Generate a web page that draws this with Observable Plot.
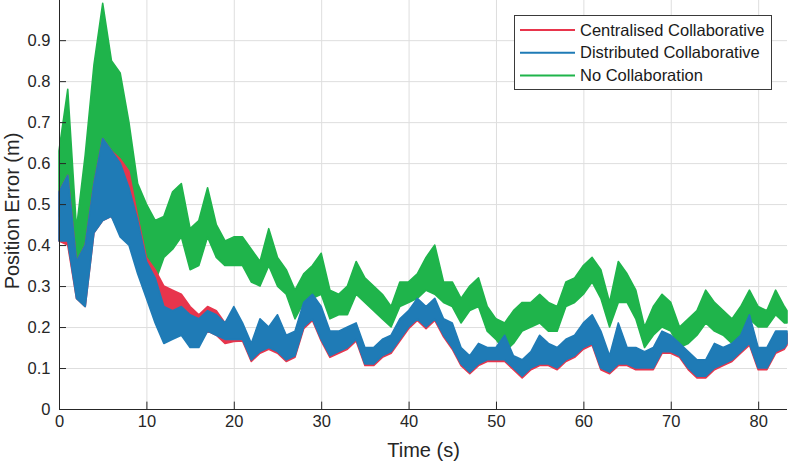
<!DOCTYPE html>
<html><head><meta charset="utf-8">
<script src="https://cdn.jsdelivr.net/npm/d3@7"></script>
<script src="https://cdn.jsdelivr.net/npm/@observablehq/plot@0.6"></script>
<style>body{margin:0;background:#fff} #chart{width:789px;height:469px}</style>
</head><body><div id="chart"></div>
<script>
// sample times (s)
const time = d3.range(84).concat([83.3]);

const seriesNames = ["Centralised Collaborative", "Distributed Collaborative", "No Collaboration"];
const seriesColors = ["#e8354c", "#1f7bb6", "#1fb44b"];

const xTicks = [0, 10, 20, 30, 40, 50, 60, 70, 80];
const yTicks = [0, 0.1, 0.2, 0.3, 0.4, 0.5, 0.6, 0.7, 0.8, 0.9];

// envelope of each noisy trace (low / high) per second
const noCollabLow = [0.47,0.45,0.31,0.32,0.50,0.48,0.47,0.44,0.42,0.38,
 0.35,0.31,0.37,0.39,0.42,0.34,0.35,0.42,0.37,0.35,
 0.35,0.35,0.31,0.30,0.35,0.30,0.28,0.22,0.26,0.27,
 0.28,0.22,0.23,0.23,0.28,0.26,0.24,0.22,0.20,0.25,
 0.26,0.27,0.29,0.28,0.26,0.25,0.21,0.24,0.25,0.19,
 0.17,0.14,0.16,0.19,0.20,0.21,0.19,0.19,0.25,0.26,
 0.28,0.31,0.27,0.20,0.26,0.26,0.22,0.15,0.18,0.20,
 0.19,0.15,0.16,0.18,0.21,0.19,0.18,0.16,0.18,0.22,
 0.20,0.20,0.23,0.21,0.21];
const noCollabHigh = [0.63,0.78,0.44,0.62,0.84,0.99,0.85,0.82,0.70,0.55,
 0.50,0.46,0.47,0.53,0.55,0.44,0.46,0.54,0.45,0.41,
 0.42,0.42,0.39,0.36,0.44,0.37,0.34,0.29,0.33,0.35,
 0.38,0.29,0.28,0.30,0.36,0.32,0.30,0.28,0.25,0.31,
 0.31,0.33,0.37,0.40,0.31,0.31,0.27,0.30,0.32,0.25,
 0.22,0.21,0.24,0.26,0.26,0.28,0.26,0.25,0.31,0.32,
 0.35,0.37,0.34,0.26,0.36,0.33,0.29,0.20,0.25,0.28,
 0.26,0.20,0.22,0.24,0.29,0.26,0.24,0.22,0.25,0.29,
 0.25,0.24,0.29,0.25,0.24];

const distributedLow = [0.41,0.41,0.27,0.25,0.43,0.46,0.47,0.42,0.40,0.33,
 0.27,0.21,0.16,0.17,0.18,0.15,0.15,0.19,0.18,0.17,
 0.17,0.17,0.12,0.14,0.15,0.14,0.12,0.13,0.20,0.22,
 0.17,0.13,0.14,0.15,0.17,0.11,0.11,0.13,0.14,0.17,
 0.20,0.22,0.20,0.22,0.18,0.15,0.11,0.09,0.11,0.12,
 0.12,0.12,0.10,0.08,0.10,0.11,0.11,0.10,0.12,0.13,
 0.15,0.16,0.10,0.09,0.11,0.11,0.10,0.10,0.10,0.14,
 0.14,0.13,0.10,0.08,0.08,0.10,0.11,0.12,0.14,0.16,
 0.10,0.10,0.14,0.15,0.16];
const distributedHigh = [0.53,0.57,0.36,0.40,0.55,0.66,0.63,0.60,0.54,0.46,
 0.36,0.32,0.25,0.24,0.25,0.23,0.22,0.24,0.23,0.21,
 0.25,0.21,0.16,0.22,0.20,0.23,0.18,0.19,0.26,0.28,
 0.25,0.19,0.19,0.20,0.21,0.15,0.15,0.17,0.18,0.22,
 0.24,0.27,0.25,0.27,0.22,0.21,0.15,0.13,0.16,0.15,
 0.15,0.18,0.13,0.12,0.14,0.18,0.16,0.15,0.17,0.18,
 0.21,0.23,0.19,0.13,0.21,0.15,0.15,0.14,0.15,0.19,
 0.18,0.16,0.14,0.12,0.12,0.16,0.15,0.16,0.18,0.23,
 0.15,0.15,0.19,0.19,0.19];

const centralisedLow = [0.41,0.40,0.27,0.25,0.43,0.46,0.47,0.43,0.42,0.35,
 0.30,0.22,0.23,0.23,0.22,0.20,0.16,0.19,0.18,0.16,
 0.165,0.166,0.116,0.136,0.146,0.136,0.116,0.126,0.196,0.216,
 0.166,0.126,0.136,0.146,0.166,0.106,0.106,0.126,0.136,0.166,
 0.196,0.216,0.196,0.216,0.176,0.146,0.106,0.086,0.106,0.116,
 0.116,0.116,0.096,0.076,0.096,0.106,0.106,0.096,0.116,0.126,
 0.146,0.156,0.096,0.086,0.106,0.106,0.096,0.096,0.096,0.136,
 0.136,0.126,0.096,0.076,0.076,0.096,0.106,0.116,0.136,0.156,
 0.096,0.096,0.136,0.146,0.156];
const centralisedHigh = [0.53,0.57,0.36,0.40,0.55,0.66,0.63,0.61,0.58,0.47,
 0.37,0.34,0.30,0.29,0.28,0.25,0.23,0.25,0.24,0.21,
 0.24,0.204,0.154,0.214,0.194,0.224,0.174,0.184,0.254,0.274,
 0.244,0.184,0.184,0.194,0.204,0.144,0.144,0.164,0.174,0.214,
 0.234,0.264,0.244,0.264,0.214,0.204,0.144,0.124,0.154,0.144,
 0.144,0.174,0.124,0.114,0.134,0.174,0.154,0.144,0.164,0.174,
 0.204,0.224,0.184,0.124,0.204,0.144,0.144,0.134,0.144,0.184,
 0.174,0.154,0.134,0.114,0.114,0.154,0.144,0.154,0.174,0.224,
 0.144,0.144,0.184,0.184,0.184];

function rows(lo, hi) { return time.map((t, i) => ({t, lo: lo[i], hi: hi[i]})); }

const axisColor = "#262626";
const font = "'Liberation Sans', Arial, Helvetica, sans-serif";

function band(lo, hi, color) {
  return Plot.areaY(rows(lo, hi), {x: "t", y1: "lo", y2: "hi", fill: color, stroke: color, strokeWidth: 1.6, strokeLinejoin: "round"});
}

const svg = Plot.plot({
  width: 789, height: 469,
  marginLeft: 59, marginRight: 2, marginTop: 0, marginBottom: 60,
  style: {fontFamily: font, fontSize: "16.5px", color: axisColor, background: "#fff", overflow: "visible"},
  x: {domain: [0, 83.3]},
  y: {domain: [0, 0.998]},
  marks: [
    Plot.gridX({ticks: xTicks, stroke: "#dedede", strokeOpacity: 1}),
    Plot.gridY({ticks: yTicks, stroke: "#dedede", strokeOpacity: 1}),
    band(noCollabLow, noCollabHigh, seriesColors[2]),
    band(centralisedLow, centralisedHigh, seriesColors[0]),
    band(distributedLow, distributedHigh, seriesColors[1]),
    Plot.ruleX(xTicks, {y1: 0, y2: 0.018, stroke: axisColor, strokeWidth: 1}),
    Plot.ruleY(yTicks, {x1: 0, x2: 0.8, stroke: axisColor, strokeWidth: 1}),
    Plot.ruleX([0], {stroke: axisColor, strokeWidth: 1}),
    Plot.ruleY([0], {stroke: axisColor, strokeWidth: 1}),
    Plot.axisX({ticks: xTicks, tickSize: 0, tickPadding: 6, label: null, fill: axisColor}),
    Plot.axisY({ticks: yTicks, tickSize: 0, tickPadding: 9, label: null, fill: axisColor,
      tickFormat: d => d === 0 ? "0" : d.toFixed(1)}),
    Plot.text(["Time (s)"], {frameAnchor: "bottom", dy: 47, fontSize: 20, fill: axisColor, textAnchor: "middle"}),
    Plot.text(["Position Error (m)"], {frameAnchor: "left", dx: -47, dy: 6, rotate: -90, fontSize: 20, fill: axisColor, textAnchor: "middle"})
  ]
});

// legend
const lg = d3.select(svg).append("g").attr("font-family", font).attr("font-size", "16.5px").attr("text-anchor", "start");
lg.append("rect").attr("x", 514.5).attr("y", 15.5).attr("width", 257).attr("height", 74)
  .attr("fill", "#fff").attr("stroke", "#3a3a3a").attr("stroke-width", 1);
seriesNames.forEach((name, i) => {
  const y = 30 + i * 22.7;
  lg.append("line").attr("x1", 520).attr("x2", 575).attr("y1", y).attr("y2", y)
    .attr("stroke", seriesColors[i]).attr("stroke-width", 2);
  lg.append("text").attr("x", 580).attr("y", y).attr("dy", "0.35em").attr("text-anchor", "start")
    .attr("fill", "#1a1a1a").text(name);
});

document.getElementById("chart").appendChild(svg);
</script>
</body></html>
